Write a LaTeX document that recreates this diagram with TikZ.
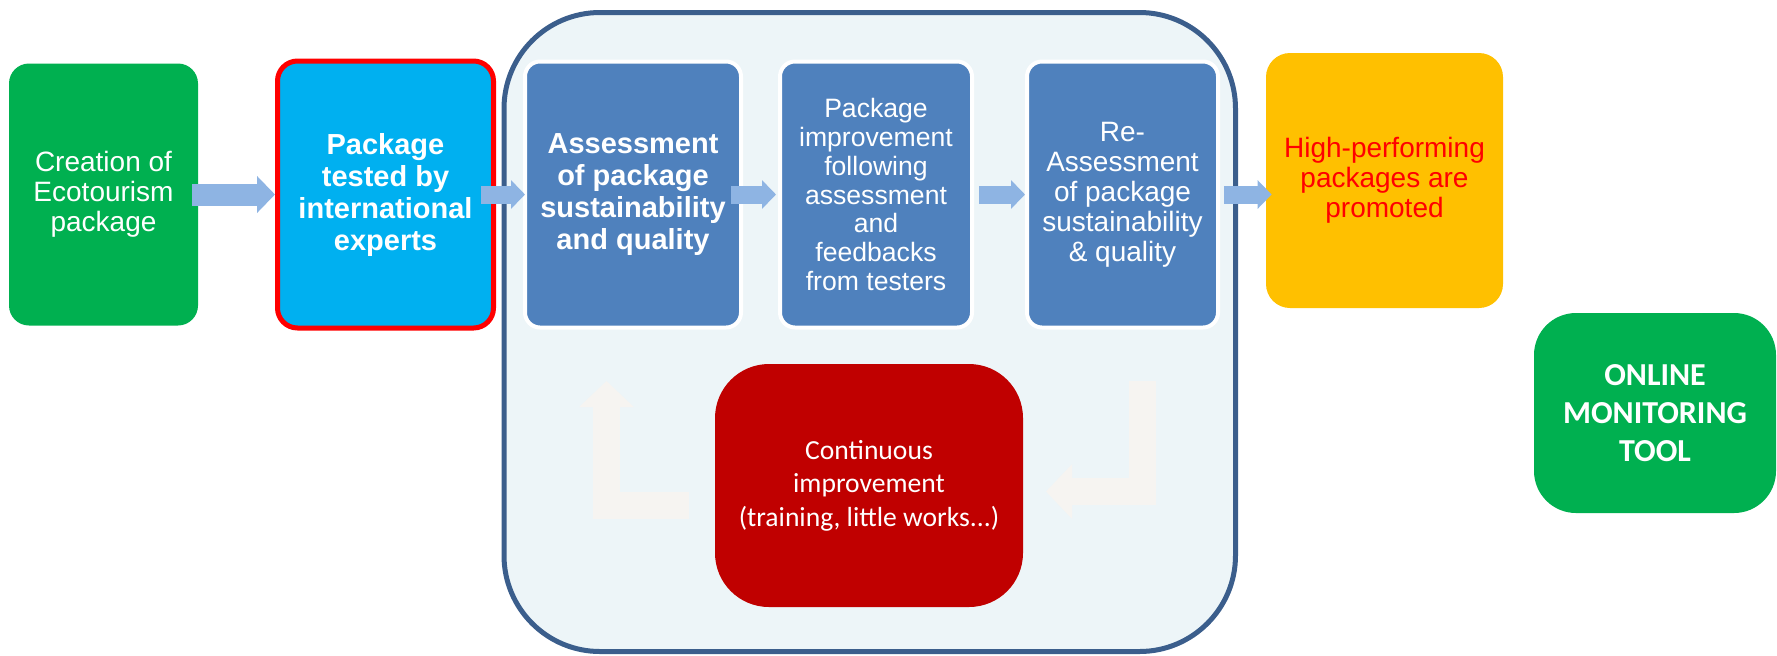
\documentclass[tikz,border=0pt]{standalone}
\usepackage{fontspec}
\setmainfont{Liberation Sans}
\newfontfamily\calibri{Carlito}
\usepackage{tikz}
\usetikzlibrary{arrows.meta}
\definecolor{ecogreen}{HTML}{00B050}
\definecolor{testblue}{HTML}{00B0F0}
\definecolor{stageblue}{HTML}{4F81BD}
\definecolor{panelfill}{HTML}{EDF5F8}
\definecolor{paneledge}{HTML}{3B5E8C}
\definecolor{flowblue}{HTML}{8EB4E3}
\definecolor{promoamber}{HTML}{FFC000}
\definecolor{fixred}{HTML}{C00000}
\definecolor{ghostgrey}{HTML}{F6F4F1}
\tikzset{
  card/.style={rounded corners=10pt, align=center, text=white, inner sep=0pt},
  stagebox/.style={card, fill=stageblue, draw=white, line width=2pt, rounded corners=7.5pt, minimum height=133pt},
  bodyfont/.style={font=\fontsize{14pt}{15pt}\selectfont},
  boldfont/.style={font=\fontsize{14.5pt}{16pt}\selectfont\bfseries},
  flow/.style={draw=flowblue, line width=9pt, -{Triangle[length=7pt,width=14pt]}},
  bigflow/.style={draw=flowblue, line width=11pt, -{Triangle[length=9pt,width=18pt]}},
  ghostarrow/.style={draw=ghostgrey, line width=13.5pt, line join=miter, -{Triangle[length=13pt,width=26.5pt]}},
}
\begin{document}
\begin{tikzpicture}[x=0.5pt,y=-0.5pt]
\useasboundingbox (0,0) rectangle (1777,655);
% panel round the assessment cycle
\node[draw=paneledge, fill=panelfill, line width=2.5pt, rounded corners=48pt,
      minimum width=365.75pt, minimum height=319.5pt] (cycle) at (869.75,332) {};
% top row
\node[card, fill=ecogreen, minimum width=94.5pt, minimum height=131pt, bodyfont] (create) at (103.5,194.5) {Creation of\\Ecotourism\\package};
\node[card, fill=testblue, draw=red, line width=2.5pt, minimum width=108pt, minimum height=133.5pt, boldfont] (tested) at (385.5,194.5) {Package\\tested by\\international\\experts};
\node[stagebox, minimum width=108pt, boldfont] (assess) at (633,194.5) {Assessment\\of package\\sustainability\\and quality};
\node[stagebox, minimum width=96pt, font=\fontsize{13.3pt}{14.35pt}\selectfont] (improve) at (876,194.5) {Package\\improvement\\following\\assessment\\and\\feedbacks\\from testers};
\node[stagebox, minimum width=95.5pt, bodyfont] (reassess) at (1122.5,194.5) {Re-\\Assessment\\of package\\sustainability\\\& quality};
\node[card, fill=promoamber, text=red, rounded corners=12pt, minimum width=118.5pt, minimum height=127.5pt, bodyfont] (high) at (1384.5,180.5) {High-performing\\packages are\\promoted};
% side boxes
\node[card, fill=ecogreen, rounded corners=21pt, minimum width=121pt, minimum height=100pt, font=\calibri\bfseries\fontsize{16pt}{19pt}\selectfont] (online) at (1655,413) {ONLINE\\MONITORING\\TOOL};
\node[card, fill=fixred, rounded corners=27pt, minimum width=154pt, minimum height=121.5pt, font=\calibri\fontsize{13.8pt}{16.7pt}\selectfont] (fix) at (869,485.5) {Continuous\\improvement\\(training, little works...)};
% flow arrows
\draw[bigflow, shorten <=-3pt] (create.east) -- (tested.west);
\draw[flow, shorten <=-7.5pt, shorten >=-1pt] (tested.east) -- (assess.west);
\draw[flow, shorten <=-6pt, shorten >=1pt] (assess.east) -- (improve.west);
\draw[flow, shorten <=2.5pt] (improve.east) -- (reassess.west);
\draw[flow, shorten <=2pt, shorten >=-3pt] (reassess.east) -- (reassess.east -| high.west);
% loop arrows
\coordinate (backout) at (689,505);
\coordinate (backup) at (606.5,381);
\coordinate (downtop) at (1142,381);
\coordinate (downin) at (1046,491.5);
\draw[ghostarrow] (backout) -| (backup);
\draw[ghostarrow] (downtop) |- (downin);
\end{tikzpicture}
\end{document}
